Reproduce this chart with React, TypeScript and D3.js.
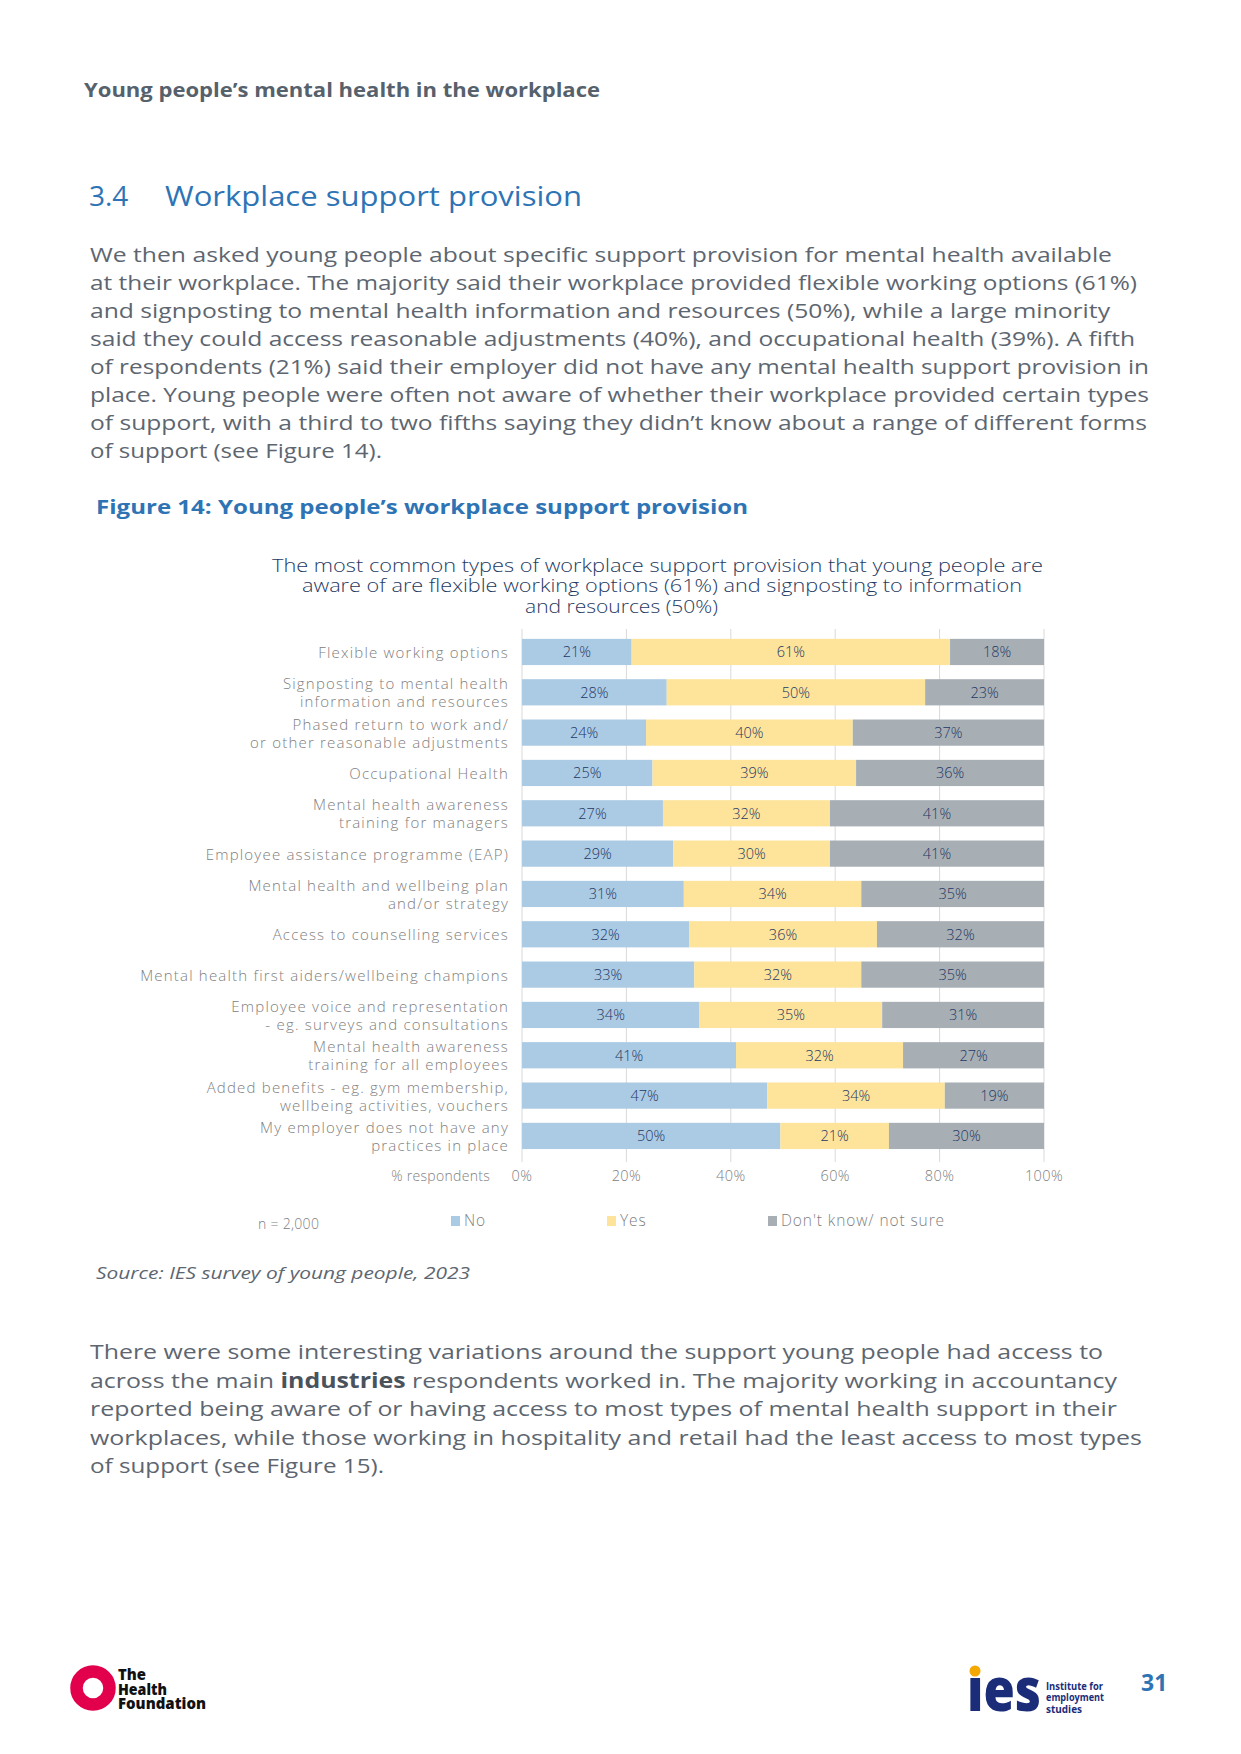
import React from 'react';
import * as d3 from 'd3';

const categories = [
  'Flexible working options',
  'Signposting to mental health\ninformation and resources',
  'Phased return to work and/\nor other reasonable adjustments',
  'Occupational Health',
  'Mental health awareness\ntraining for managers',
  'Employee assistance programme (EAP)',
  'Mental health and wellbeing plan\nand/or strategy',
  'Access to counselling services',
  'Mental health first aiders/wellbeing champions',
  'Employee voice and representation\n- eg. surveys and consultations',
  'Mental health awareness\ntraining for all employees',
  'Added benefits  - eg. gym membership,\nwellbeing activities, vouchers',
  'My employer does not have any\npractices in place',
];
const noValues = [21, 28, 24, 25, 27, 29, 31, 32, 33, 34, 41, 47, 50];
const yesValues = [61, 50, 40, 39, 32, 30, 34, 36, 32, 35, 32, 34, 21];
const dkValues = [18, 23, 37, 36, 41, 41, 35, 32, 35, 31, 27, 19, 30];
const seriesKeys = ['no', 'yes', 'dk'];
const seriesNames = ['No', 'Yes', "Don't know/ not sure"];
const seriesColors = ['#abcae4', '#fde49a', '#a7afb5'];
const xTickValues = [0, 0.2, 0.4, 0.6, 0.8, 1];

const headerText = 'Young people’s mental health in the workplace';
const sectionNumber = '3.4';
const sectionTitle = 'Workplace support provision';
const para1 = [
  'We then asked young people about specific support provision for mental health available',
  'at their workplace. The majority said their workplace provided flexible working options (61%)',
  'and signposting to mental health information and resources (50%), while a large minority',
  'said they could access reasonable adjustments (40%), and occupational health (39%). A fifth',
  'of respondents (21%) said their employer did not have any mental health support provision in',
  'place. Young people were often not aware of whether their workplace provided certain types',
  'of support, with a third to two fifths saying they didn’t know about a range of different forms',
  'of support (see Figure 14).',
];
const figureTitle = 'Figure 14: Young people’s workplace support provision';
const subtitleLines = [
  'The most common types of workplace support provision that young people are',
  'aware of are flexible working options (61%) and signposting to information',
  'and resources (50%)',
];
const axisTitle = '% respondents';
const sampleNote = 'n = 2,000';
const sourceText = 'Source: IES survey of young people, 2023';
const para2 = [
  'There were some interesting variations around the support young people had access to',
  'across the main **industries** respondents worked in. The majority working in accountancy',
  'reported being aware of or having access to most types of mental health support in their',
  'workplaces, while those working in hospitality and retail had the least access to most types',
  'of support (see Figure 15).',
];
const pageNumber = '31';

const FONT = "'Open Sans', 'Noto Sans', sans-serif";
const TEXT_GREY = '#5d6670';
const LABEL_GREY = '#808080';
const BLUE = '#2e74b5';
const NAVY = '#1f3a5f';

function renderRich(line: string) {
  const parts = line.split('**');
  return parts.map((p, i) =>
    i % 2 === 1 ? (
      <tspan key={i} fontWeight={700} fill="#4a525b">{p}</tspan>
    ) : (
      <tspan key={i}>{p}</tspan>
    )
  );
}

export default function App() {
  const W = 1241;
  const H = 1754;

  const x = d3.scaleLinear().domain([0, 1]).range([522, 1044]);
  const y = d3
    .scaleBand<string>()
    .domain(categories)
    .range([631.8, 1156.1])
    .paddingInner(0.35)
    .paddingOuter(0.175);

  const rows = categories.map((c, i) => ({
    cat: c,
    no: noValues[i],
    yes: yesValues[i],
    dk: dkValues[i],
  }));
  const stack = d3.stack<any>().keys(seriesKeys).offset(d3.stackOffsetExpand);
  const stacked = stack(rows);
  const pct = (d: number) => `${d}%`;
  const tickFmt = d3.format('.0%');

  const para1Ends = [1112, 1137, 1110, 1135, 1149, 1149, 1147, 382];
  const para2Ends = [1103, 1117, 1117, 1142, 384];
  const subtitleX = [[272, 1043], [302, 1022], [525, 718]];
  const legendX = [451, 607, 768];

  return (
    <svg
      width={W}
      height={H}
      viewBox={`0 0 ${W} ${H}`}
      style={{ position: 'absolute', left: 0, top: 0, background: '#fff' }}
      fontFamily={FONT}
    >
      <rect x={0} y={0} width={W} height={H} fill="#fff" />
      {/* Header */}
      <text x={84} y={90} dominantBaseline="central" fontSize={19} fontWeight={700} fill="#56616c"
        textLength={516} lengthAdjust="spacingAndGlyphs">{headerText}</text>

      {/* Section title */}
      <text x={89} y={195} dominantBaseline="central" fontSize={28} fill={BLUE}>{sectionNumber}</text>
      <text x={165} y={195} dominantBaseline="central" fontSize={28} fill={BLUE}
        textLength={417} lengthAdjust="spacingAndGlyphs">{sectionTitle}</text>

      {/* Paragraph 1 */}
      {para1.map((l, i) => (
        <text key={i} x={90} y={253.5 + i * 28.05} dominantBaseline="central" fontSize={20.5} fill={TEXT_GREY}
          textLength={para1Ends[i] - 90} lengthAdjust="spacingAndGlyphs">{l}</text>
      ))}

      {/* Figure title */}
      <text x={96} y={506} dominantBaseline="central" fontSize={20} fontWeight={700} fill={BLUE}
        textLength={652} lengthAdjust="spacingAndGlyphs">{figureTitle}</text>

      {/* Chart subtitle */}
      {subtitleLines.map((l, i) => (
        <text key={i} x={subtitleX[i][0]} y={564 + i * 20.7} dominantBaseline="central" fontSize={18.5} fill={NAVY}
          fontWeight={300}
          textLength={subtitleX[i][1] - subtitleX[i][0]} lengthAdjust="spacingAndGlyphs">{l}</text>
      ))}

      {/* Gridlines */}
      {xTickValues.map((t) => (
        <line key={t} x1={x(t)} x2={x(t)} y1={629} y2={1162} stroke="#d9d9d9" strokeWidth={1} />
      ))}

      {/* Bars */}
      {stacked.map((s, si) => (
        <g key={s.key}>
          {s.map((d, i) => {
            const cat = categories[i];
            const x0 = x(d[0]);
            const x1 = x(d[1]);
            const yy = y(cat)!;
            return (
              <g key={i}>
                <rect x={x0} y={yy} width={x1 - x0} height={y.bandwidth()} fill={seriesColors[si]} />
                <text x={(x0 + x1) / 2} y={yy + y.bandwidth() / 2} textAnchor="middle" dominantBaseline="central"
                  fontSize={14.5} fontWeight={300} fill="#1f3864">{pct((rows[i] as any)[s.key])}</text>
              </g>
            );
          })}
        </g>
      ))}

      {/* Category labels */}
      {categories.map((c) => {
        const lines = c.split('\n');
        const cy = y(c)! + y.bandwidth() / 2;
        const lh = 18;
        return (
          <text key={c} textAnchor="end" fontSize={15} fill={LABEL_GREY} fontWeight={300} letterSpacing={1.2}>
            {lines.map((ln, j) => (
              <tspan key={j} x={509} y={cy + (j - (lines.length - 1) / 2) * lh} dominantBaseline="central">{ln}</tspan>
            ))}
          </text>
        );
      })}

      {/* Axis tick labels */}
      {xTickValues.map((t) => (
        <text key={t} x={x(t)} y={1175} textAnchor="middle" dominantBaseline="central" fontSize={14.5} fontWeight={300}
          letterSpacing={0.4} fill={LABEL_GREY}>
          {tickFmt(t)}
        </text>
      ))}
      <text x={490} y={1175} textAnchor="end" dominantBaseline="central" fontSize={14} fontWeight={300}
        letterSpacing={0.3} fill={LABEL_GREY}>{axisTitle}</text>

      {/* Legend */}
      <text x={258} y={1223} dominantBaseline="central" fontSize={14} fontWeight={300} letterSpacing={0.3}
        fill={LABEL_GREY}>{sampleNote}</text>
      {seriesNames.map((n, i) => (
        <g key={n}>
          <rect x={legendX[i]} y={1216} width={9} height={10} fill={seriesColors[i]} />
          <text x={legendX[i] + 13} y={1220} dominantBaseline="central" fontSize={15.5} fontWeight={300}
            letterSpacing={0.9} fill={LABEL_GREY}>{n}</text>
        </g>
      ))}

      {/* Source */}
      <text x={96} y={1272} dominantBaseline="central" fontSize={17} fontStyle="italic" fill={TEXT_GREY}
        textLength={374} lengthAdjust="spacingAndGlyphs">{sourceText}</text>

      {/* Paragraph 2 */}
      {para2.map((l, i) => (
        <text key={i} x={90} y={1351 + i * 28.6} dominantBaseline="central" fontSize={20.5} fill={TEXT_GREY}
          textLength={para2Ends[i] - 90} lengthAdjust="spacingAndGlyphs">{renderRich(l)}</text>
      ))}

      {/* Health Foundation logo */}
      <circle cx={93} cy={1688} r={16.5} fill="none" stroke="#e2004d" strokeWidth={12.5} />
      <text fontSize={15} fontWeight={800} fill="#111">
        {['The', 'Health', 'Foundation'].map((t, i) => (
          <tspan key={t} x={118} y={1674 + i * 14.5} dominantBaseline="central"
            textLength={i === 0 ? 28 : i === 1 ? 49 : 88} lengthAdjust="spacingAndGlyphs">{t}</tspan>
        ))}
      </text>

      {/* IES logo */}
      <text x={967} y={1711} fontSize={60} fontWeight={800} fill="#1b2c78" textLength={74} lengthAdjust="spacingAndGlyphs">ıes</text>
      <circle cx={975} cy={1671} r={5.5} fill="#f5a800" />
      <text fontSize={11} fontWeight={700} fill="#1b2c78">
        {['Institute for', 'employment', 'studies'].map((t, i) => (
          <tspan key={t} x={1046} y={1685 + i * 11.5} dominantBaseline="central"
            textLength={i === 0 ? 57 : i === 1 ? 58 : 36} lengthAdjust="spacingAndGlyphs">{t}</tspan>
        ))}
      </text>

      {/* Page number */}
      <text x={1141} y={1682} dominantBaseline="central" fontSize={23} fontWeight={700} fill={BLUE}>{pageNumber}</text>
    </svg>
  );
}
